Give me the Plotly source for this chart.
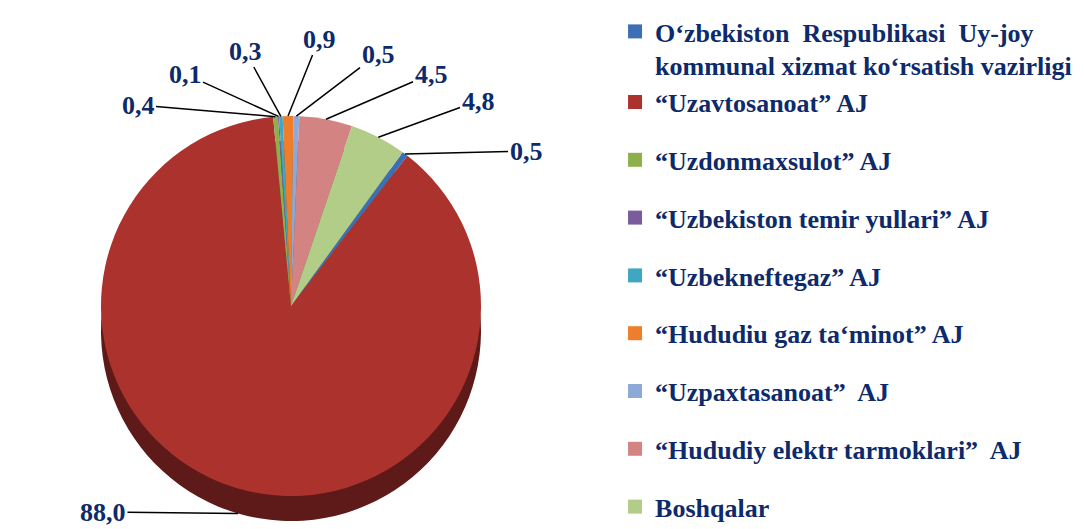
import math
import plotly.graph_objects as go

labels = [
    "O‘zbekiston  Respublikasi  Uy-joy<br>kommunal xizmat ko‘rsatish vazirligi",
    "“Uzavtosanoat” AJ",
    "“Uzdonmaxsulot” AJ",
    "“Uzbekiston temir yullari” AJ",
    "“Uzbekneftegaz” AJ",
    "“Hududiu gaz ta‘minot” AJ",
    "“Uzpaxtasanoat”  AJ",
    "“Hududiy elektr tarmoklari”  AJ",
    "Boshqalar",
]
values = [0.5, 88.0, 0.4, 0.1, 0.3, 0.9, 0.5, 4.5, 4.8]
colors = ["#3C6FB6", "#AC322E", "#8DB04A", "#7A5C9E", "#3FA6C4",
          "#EE7E2C", "#8EA9D8", "#D38482", "#B2CD88"]
side_colors = ["#22406B", "#5E1A18", "#4E6628", "#44335A", "#235E70",
               "#8A4818", "#51617E", "#7A4A49", "#677750"]

# where each value label sits (pixels from top-left)
label_pos = [(518, 143), (95, 504), (130, 97), (177, 66), (237, 43),
             (311, 31), (370, 46), (423, 66), (470, 93)]

NAVY = "#0D2A6B"
FONT = "Liberation Serif, Times New Roman, Tinos, serif"
W, H = 1084, 529
ROT = 36

# pie geometry (pixels)
CX, CY, R, DEPTH = 283, 298, 190, 25
dom_x = [(CX - R) / W, (CX + R) / W]
dom_y_top = [1 - (CY + R) / H, 1 - (CY - R) / H]
dom_y_side = [1 - (CY + R + DEPTH) / H, 1 - (CY - R + DEPTH) / H]

fig = go.Figure()

# depth (side) of the pie
fig.add_trace(go.Pie(
    values=values, labels=labels, sort=False, direction="clockwise",
    rotation=ROT, marker=dict(colors=side_colors, line=dict(width=0)),
    textinfo="none", hoverinfo="skip", showlegend=False,
    domain=dict(x=dom_x, y=dom_y_side),
))

# top face
fig.add_trace(go.Pie(
    values=values, labels=labels, sort=False, direction="clockwise",
    rotation=ROT, marker=dict(colors=colors, line=dict(width=0)),
    textinfo="none", showlegend=False,
    domain=dict(x=dom_x, y=dom_y_top),
))

# value labels with leader lines to the slice edges
total = sum(values)
cum = 0.0
annotations = []
for v, (tx, ty) in zip(values, label_pos):
    mid = ROT + (cum + v / 2) / total * 360
    cum += v
    a = math.radians(mid)
    px = CX + R * math.sin(a)
    py = CY - R * math.cos(a)
    if math.cos(a) < 0:
        py += DEPTH
    annotations.append(dict(
        x=px, y=py, xref="x", yref="y",
        ax=tx, ay=ty, axref="x", ayref="y",
        text=f"{v:.1f}".replace(".", ","),
        showarrow=True, arrowhead=0, arrowwidth=1.5, arrowcolor="black",
        font=dict(family=FONT, size=26, color=NAVY, weight="bold"),
        standoff=0, startstandoff=0,
    ))

# legend entries
groups = ["g0", "g0", "g2", "g3", "g4", "g5", "g6", "g7", "g8"]
for name, col, grp in zip(labels, colors, groups):
    fig.add_trace(go.Scatter(
        x=[None], y=[None], mode="markers", name=name,
        marker=dict(symbol="square", size=14, color=col, line=dict(width=0)),
        legendgroup=grp, showlegend=True, hoverinfo="skip",
    ))

fig.update_layout(
    width=W, height=H,
    margin=dict(l=0, r=0, t=0, b=0),
    paper_bgcolor="white", plot_bgcolor="rgba(0,0,0,0)",
    xaxis=dict(visible=False, range=[0, W], domain=[0, 1], fixedrange=True),
    yaxis=dict(visible=False, range=[H, 0], domain=[0, 1], fixedrange=True),
    annotations=annotations,
    legend=dict(
        x=0.56, y=1.0, xanchor="left", yanchor="top",
        font=dict(family=FONT, size=26, color=NAVY, weight="bold"),
        valign="top", tracegroupgap=21, itemwidth=30,
        bgcolor="rgba(0,0,0,0)",
    ),
    showlegend=True,
)

fig.write_html("out.html")
